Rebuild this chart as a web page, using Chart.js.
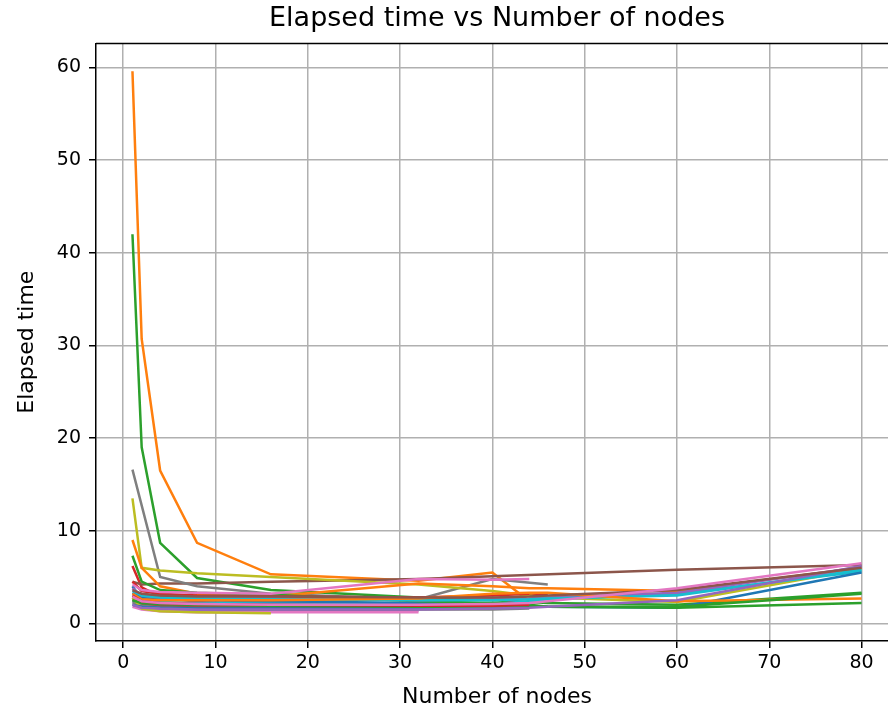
<!DOCTYPE html>
<html>
<head>
<meta charset="utf-8">
<script src="https://cdn.jsdelivr.net/npm/chart.js@4.4.1/dist/chart.umd.min.js"></script>
<style>
  html, body { margin: 0; padding: 0; background: #fff; overflow: hidden; }
  #wrap { width: 910px; height: 711px; position: relative; }
</style>
</head>
<body>
<div id="wrap"><canvas id="c"></canvas></div>
<script>
// Node counts (x positions shared by all runs)
const nodes = [1, 2, 4, 8, 16, 32, 40, 44, 46, 60, 80];
const xTicks = [0, 10, 20, 30, 40, 50, 60, 70, 80];
const yTicks = [0, 10, 20, 30, 40, 50, 60];

// Elapsed time of each run, aligned to `nodes` (null = not measured)
const run00 = [4.0, 2.6, 2.0, 1.8, 1.7, 1.8, 2.0, 2.0];
const run01 = [59.6, 30.7, 16.5, 8.7, 5.3, 4.6, 5.5, 2.4];
const run02 = [42.0, 19.0, 8.7, 4.9, 3.6, 2.8, 2.5, 2.3, 2.2, 2.0, 3.3];
const run03 = [6.2, 3.9, 2.9, 2.3, 1.9, 1.6, 1.6, 3.1, 3.2];
const run04 = [2.4, 1.8, 1.5, 1.4, 1.4, 1.4];
const run05 = [4.5, 4.2, 4.3, 4.3, 4.5, 4.8, 5.1, null, null, 5.8, 6.3];
const run06 = [1.8, 1.5, 1.3, 1.2, 1.2, 1.2];
const run07 = [16.6, null, 5.0, 4.0, 3.2, 2.6, 4.8, null, 4.2];
const run08 = [13.5, 6.0, 5.7, 5.4, 5.0, 4.2, 3.5, 3.0, 2.8, 2.3, 5.9];
const run09 = [3.0, 2.5, 2.3, 2.2, 2.2, 2.1, 2.1, 2.4, 2.6, 3.2, 5.6];
const run10 = [3.3, 2.8, 2.6, 2.5, 2.4, 2.2, 2.0, 1.9, 1.8, 1.7, 5.5];
const run11 = [9.0, 6.0, 4.0, 3.2, 2.9, 4.3, 4.0, 3.8, 3.8, 3.5, 6.0];
const run12 = [7.3, 4.5, 3.6, 3.3, 3.1, 2.4, 2.2, 2.0, 1.8, 1.7, 2.2];
const run13 = [4.5, 3.5, 3.2, 3.0, 2.9, 2.8, 3.0, 3.2];
const run14 = [3.8, 3.0, 2.8, 2.7, 2.7, 2.5, 2.6, 2.7, 2.8, 3.3, 6.1];
const run15 = [2.6, 2.1, 1.9, 1.8, 1.7, 1.7];
const run16 = [4.2, 3.6, 3.4, 3.3, 3.2, 4.8, 4.7, 4.8];
const run17 = [2.2, 1.9, 1.7, 1.6, 1.5, 1.5, 1.5, 1.6];
const run18 = [2.8, 1.6, 1.3, 1.2, 1.1];
const run19 = [3.5, 3.0, 2.8, 2.7, 2.6, 2.5, 2.5, 2.6, 2.7, 3.0, 5.8];
const run20 = [2.0, 1.8, 1.7, 1.6, 1.6, 1.6, 1.9, 2.0];
const run21 = [3.2, 2.6, 2.5, 2.5, 2.5, 2.7, 3.2, 3.3, 3.3, 2.4, 2.7];
const run22 = [2.5, 2.2, 2.1, 2.0, 1.9, 1.8, 1.8, 1.8, 1.8, 1.8, 3.2];
const run23 = [3.0, 2.4, 2.2, 2.1, 2.0, 1.9, 1.9, 2.0];
const run24 = [2.0, 1.7, 1.6, 1.5, 1.5, 1.5, 1.6, 1.7, 1.8, 2.5, 6.2];
const run25 = [3.6, 3.2, 3.0, 2.9, 2.9, 2.8, 2.8, 2.9, 3.0, 3.6, 6.0];
const run26 = [2.9, 2.4, 2.2, 2.1, 2.0, 2.0, 2.1, 2.2, 2.4, 3.8, 6.5];

const runs = [run00, run01, run02, run03, run04, run05, run06, run07, run08, run09,
              run10, run11, run12, run13, run14, run15, run16, run17, run18, run19,
              run20, run21, run22, run23, run24, run25, run26];

const tab10 = ['#1f77b4', '#ff7f0e', '#2ca02c', '#d62728', '#9467bd',
               '#8c564b', '#e377c2', '#7f7f7f', '#bcbd22', '#17becf'];

const datasets = runs.map((ys, i) => ({
  label: 'run ' + i,
  data: ys.map((y, k) => ({ x: nodes[k], y: y })),
  borderColor: tab10[i % 10],
  backgroundColor: tab10[i % 10],
  borderWidth: 2.5,
  pointRadius: 0,
  tension: 0,
  spanGaps: true,
  order: -i
}));

const FONT = 'DejaVu Sans';

const framePlugin = {
  id: 'frame',
  afterDraw(chart) {
    const { ctx, chartArea: a } = chart;
    ctx.save();
    ctx.strokeStyle = '#000';
    ctx.lineWidth = 1.5;
    ctx.beginPath();
    ctx.moveTo(a.left, a.top);
    ctx.lineTo(a.right, a.top);
    ctx.lineTo(a.right, a.bottom);
    ctx.stroke();
    ctx.restore();
  }
};

new Chart(document.getElementById('c'), {
  type: 'line',
  data: { datasets },
  plugins: [framePlugin],
  options: {
    responsive: true,
    maintainAspectRatio: false,
    animation: false,
    layout: { padding: { left: 0, right: 12, top: 0, bottom: 0 } },
    plugins: {
      legend: { display: false },
      tooltip: { enabled: false },
      title: {
        display: true,
        fullSize: false,
        text: 'Elapsed time vs Number of nodes',
        color: '#000',
        font: { family: FONT, size: 27, weight: 'normal' },
        padding: { top: 3, bottom: 8 }
      }
    },
    scales: {
      x: {
        type: 'linear',
        min: -2.95,
        max: 83.95,
        afterBuildTicks(scale) { scale.ticks = xTicks.map(v => ({ value: v })); },
        afterFit(scale) { scale.height = 70; },
        grid: { color: '#b0b0b0', lineWidth: 1.5, tickColor: '#000', tickLength: 7, tickWidth: 1.5 },
        border: { display: true, color: '#000', width: 1.5 },
        ticks: { color: '#000', font: { family: FONT, size: 19 }, padding: 4, maxRotation: 0 },
        title: {
          display: true, text: 'Number of nodes', color: '#000',
          font: { family: FONT, size: 22 }, padding: { top: 2, bottom: 1 }
        }
      },
      y: {
        type: 'linear',
        min: -1.9,
        max: 62.6,
        afterBuildTicks(scale) { scale.ticks = yTicks.map(v => ({ value: v })); },
        afterFit(scale) { scale.width = 96; },
        grid: { color: '#b0b0b0', lineWidth: 1.5, tickColor: '#000', tickLength: 7, tickWidth: 1.5 },
        border: { display: true, color: '#000', width: 1.5 },
        ticks: { color: '#000', font: { family: FONT, size: 19 }, padding: 8 },
        title: {
          display: true, text: 'Elapsed time', color: '#000',
          font: { family: FONT, size: 22 }, padding: { top: 14, bottom: 0 }
        }
      }
    }
  }
});
</script>
</body>
</html>
